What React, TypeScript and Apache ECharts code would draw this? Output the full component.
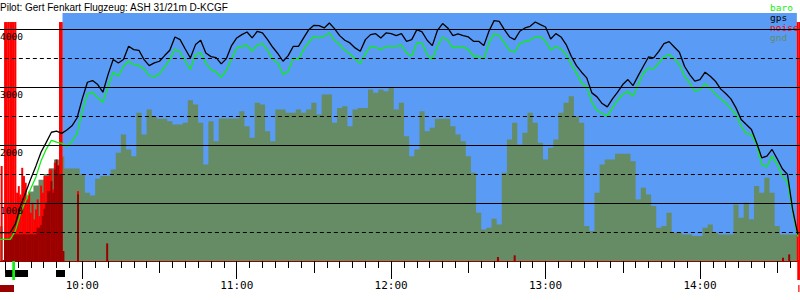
import React, { useEffect, useRef } from 'react';
import * as echarts from 'echarts';

const chartTitle = 'Pilot: Gert Fenkart Flugzeug: ASH 31/21m D-KCGF';
const legendNames = ['baro', 'gps', 'noise', 'gnd'];

// track samples every 2 minutes from 09:28
const trackStart = '09:28:00';
const trackStepMin = 2;
const gpsAlt = [
  488, 488, 488, 640, 950, 1180, 1420, 1640, 1880, 2045, 2220, 2240, 2200, 2260, 2330, 2470, 2800, 3082, 3111, 3042,
  2910, 3214, 3473, 3415, 3473, 3702, 3645, 3633, 3473, 3369, 3415, 3444, 3542, 3633, 3863, 3817, 3656, 3501, 3731,
  3806, 3588, 3524, 3507, 3398, 3490, 3714, 3846, 3903, 3949, 3846, 3961, 3932, 3817, 3685, 3576, 3444, 3542, 3702, 3702,
  3846, 3989, 4064, 4058, 4018, 4104, 4007, 3886, 3806, 3760, 3674, 3616, 3817, 3903, 3920, 3846, 3932, 3920, 3886,
  3920, 3788, 3817, 3989, 3949, 3806, 3714, 3978, 4093, 4018, 3886, 3915, 3886, 3863, 3788, 3788, 3714, 3961, 4144, 4133,
  3989, 3863, 3817, 3961, 4018, 4047, 4121, 4075, 4035, 3829, 3920, 3863, 3731, 3530, 3369, 3255, 3157, 2899, 2830,
  2715, 2658, 2795, 2910, 3042, 3128, 3025, 3197, 3358, 3518, 3501, 3616, 3748, 3783, 3691, 3599, 3358, 3214, 3100, 3128,
  3255, 3186, 3100, 2968, 2887, 2795, 2640, 2440, 2353, 2267, 2038, 1779, 1808, 1923, 1762, 1590, 1492, 890, 459,
];
const baroAlt = [
  373, 373, 373, 520, 820, 1040, 1250, 1450, 1730, 1930, 2080, 2050, 2029, 1975, 2060, 2200, 2580, 2881, 2910, 2813,
  2738, 3002, 3255, 3186, 3358, 3444, 3387, 3369, 3312, 3197, 3174, 3226, 3346, 3473, 3656, 3599, 3444, 3300, 3559,
  3588, 3415, 3300, 3260, 3168, 3289, 3484, 3674, 3702, 3720, 3616, 3731, 3748, 3633, 3473, 3415, 3214, 3272, 3501, 3473,
  3645, 3771, 3875, 3846, 3875, 3932, 3806, 3731, 3633, 3570, 3484, 3404, 3576, 3702, 3685, 3645, 3702, 3702, 3702,
  3720, 3588, 3530, 3760, 3760, 3559, 3473, 3702, 3863, 3806, 3674, 3702, 3691, 3645, 3530, 3530, 3473, 3760, 3915, 3886,
  3760, 3633, 3599, 3748, 3788, 3806, 3863, 3863, 3788, 3633, 3702, 3656, 3559, 3387, 3243, 3071, 3002, 2738, 2594,
  2543, 2497, 2640, 2772, 2870, 2927, 2841, 3042, 3232, 3329, 3312, 3415, 3518, 3559, 3484, 3387, 3186, 3071, 2927, 2956,
  3059, 2968, 2881, 2795, 2727, 2623, 2526, 2325, 2198, 2181, 2009, 1665, 1624, 1808, 1665, 1464, 1360, 861, 419,
];
const groundAlt = [
  600, 0, 1000, 1000, 1100, 1100, 1200, 1300, 1400, 1500, 1600, 1750, 1800, 1596, 1596, 1596, 1492, 1177, 1131, 1418,
  1464, 1464, 1579, 1866, 2181, 1923, 1808, 2554, 2181, 2612, 2485, 2451, 2451, 2411, 2353, 2353, 2382, 2772, 2698,
  2382, 1665, 2411, 2066, 2457, 2457, 2457, 2457, 2583, 2325, 2124, 2727, 2698, 2239, 2066, 2612, 2612, 2554, 2554, 2612,
  2554, 2612, 2727, 2526, 2870, 2870, 2382, 2640, 2669, 2325, 2612, 2640, 2640, 2956, 2899, 2956, 2927, 2985, 2612,
  2727, 2153, 1808, 1923, 2583, 2239, 2296, 2451, 2451, 2451, 2325, 2181, 2066, 1808, 1521, 832, 545, 574, 729, 631,
  1521, 2095, 2382, 2009, 2210, 2554, 2382, 2038, 1751, 1952, 2095, 2554, 2727, 2841, 2497, 2382, 603, 517, 1177,
  1665, 1751, 1751, 1848, 1848, 1848, 1722, 1062, 1263, 1148, 947, 574, 603, 832, 488, 488, 459, 459, 430, 430,
  574, 631, 488, 459, 459, 459, 976, 746, 1004, 718, 1292, 1177, 1435, 1177, 603, 459, 459, 459, 459,
];

// noise samples every 40 s from 09:28 (pre-launch)
const noiseStart = '09:28:00';
const noiseStepSec = 40;
const noiseLevel = [
  0, 1636, 0, 4120, 4120, 4120, 4120, 4120, 4120, 4120, 1177, 1291, 1148, 1607, 1464, 1349, 1062, 1177, 832, 1005,
  718, 890, 1062, 775, 1300, 1177, 1464, 1464, 1464, 1579, 1579, 1234, 1693, 1292, 1492, 4120, 4120, 0, 0,
];
const enlLevel = [
  0, 0, 0, 373, 373, 373, 373, 373, 459, 459, 459, 459, 459, 459, 459, 459, 459, 459, 459, 459,
  459, 459, 574, 574, 620, 775, 900, 1005, 1205, 1205, 1380, 1177, 1579, 1750, 1650, 1500, 1500, 172, 0,
];
const spikeTimes = ['09:58:20', '10:09:40', '12:41:30', '12:48:00', '14:32:15', '14:34:40', '14:38:00', '14:38:40'];
const spikeNoise = [1205, 0, 0, 0, 0, 0, 4120, 4120];
const spikeEnl = [1150, 304, 69, 98, 57, 115, 0, 0];

const takeoffTime = '09:52:19';
const landingTime = '14:37:39';

// flight-phase markers under the time axis
const markerKinds = ['engine', 'engine', 'release', 'tow', 'landing'];
const markerStart = ['09:30:00', '09:49:47', '09:32:48', '09:28:00', '14:37:48'];
const markerEnd = ['09:38:55', '09:53:17', '09:33:51', '09:33:28', '14:38:51'];

const toMin = (s: string) => {
  const p = s.split(':');
  return +p[0] * 60 + +p[1] + (p[2] ? +p[2] / 60 : 0);
};
const fmtHM = (v: number) => {
  const h = Math.floor(v / 60);
  const m = Math.round(v - h * 60);
  return `${h}:${m < 10 ? '0' : ''}${m}`;
};

const BLUE = '#5a9bf5';
const OLIVE = '#658c65';
const GREEN = '#10f010';
const RED = '#ff0000';
const DARKRED = '#990000';
const MONO = 'DejaVu Sans Mono';

export default function App() {
  const ref = useRef<HTMLDivElement>(null);
  useEffect(() => {
    if (!ref.current) return;
    const chart = echarts.init(ref.current, undefined, { renderer: 'svg' });
    const t0 = toMin(trackStart);
    const n0 = toMin(noiseStart);
    const trackX = gpsAlt.map((_, i) => t0 + i * trackStepMin);
    const noiseX = noiseLevel.map((_, k) => n0 + (k * noiseStepSec) / 60);
    const spikeX = spikeTimes.map(toMin);

    const noiseData = noiseLevel.map((v, k) => [noiseX[k], v]).concat(spikeNoise.map((v, j) => [spikeX[j], v]));
    const enlData = enlLevel.map((v, k) => [noiseX[k], v]).concat(spikeEnl.map((v, j) => [spikeX[j], v]));
    const markerData = markerStart.map((s, i) => [toMin(s), toMin(markerEnd[i])]);

    const xMin = 540;
    const xMax = 900;
    const firstVisible = trackX[0];
    const lastVisible = trackX[trackX.length - 1];
    const gridLeft = -72.13;
    const gridRight = -54.4;

    chart.setOption({
      animation: false,
      title: {
        text: chartTitle,
        left: 0,
        top: 2,
        padding: 0,
        textStyle: { fontFamily: 'Liberation Sans', fontSize: 10, fontWeight: 'normal', color: '#000' },
      },
      legend: {
        data: legendNames.map((n, i) => ({
          name: n,
          textStyle: { color: [GREEN, '#000', RED, OLIVE][i] },
        })),
        orient: 'vertical',
        left: 765,
        top: 2,
        padding: 0,
        itemGap: 0,
        itemWidth: 0,
        itemHeight: 10,
        icon: 'none',
        selectedMode: false,
        textStyle: { fontFamily: MONO, fontSize: 9.5, lineHeight: 10, padding: 0 },
      },
      grid: {
        left: gridLeft,
        right: gridRight,
        top: 13,
        bottom: 39,
        containLabel: false,
        outerBoundsMode: 'none',
      },
      xAxis: [
        {
          type: 'value',
          position: 'bottom',
          min: xMin,
          max: xMax,
          interval: 30,
          axisLine: { show: true, onZero: false, lineStyle: { color: DARKRED, width: 2 } },
          axisTick: { show: true, length: 12, lineStyle: { color: '#000', width: 1 } },
          minorTick: { show: true, splitNumber: 6, length: 7, lineStyle: { color: '#000', width: 1 } },
          axisLabel: { show: false },
          splitLine: { show: false },
          minorSplitLine: { show: false },
        },
        {
          type: 'value',
          position: 'bottom',
          min: xMin,
          max: xMax,
          interval: 60,
          axisLine: { show: false, onZero: false },
          axisTick: { show: true, length: 18, lineStyle: { color: '#000', width: 1 } },
          axisLabel: {
            show: true,
            margin: 19,
            formatter: (v: number) => (v < firstVisible + 10 || v > lastVisible - 10 ? '' : fmtHM(v)),
            fontFamily: MONO,
            fontSize: 11,
            color: '#000',
          },
          splitLine: { show: false },
        },
      ],
      yAxis: [
        {
          type: 'value',
          position: 'left',
          min: 0,
          max: 4276,
          interval: 1000,
          z: 10,
          axisLine: { show: false },
          axisTick: { show: false },
          axisLabel: {
            inside: true,
            margin: 72.13,
            align: 'left',
            verticalAlign: 'top',
            fontFamily: MONO,
            fontSize: 9.5,
            color: '#000',
            padding: [2, 0, 0, 0],
            formatter: (v: number) => (v > 0 && v % 1000 === 0 ? String(v) : ''),
          },
          splitLine: { show: true, showMinLine: false, showMaxLine: false, lineStyle: { color: '#000', width: 1 } },
        },
        {
          type: 'value',
          position: 'left',
          min: 0,
          max: 4276,
          interval: 500,
          z: 9,
          axisLine: { show: false },
          axisTick: { show: false },
          axisLabel: { show: false },
          splitLine: {
            show: true,
            showMinLine: false,
            showMaxLine: false,
            lineStyle: { color: '#000', width: 1, type: [4, 3] },
          },
        },
      ],
      series: [
        {
          name: 'bg',
          type: 'line',
          z: 0,
          data: [[toMin(takeoffTime), 0]],
          symbol: 'none',
          lineStyle: { opacity: 0 },
          markArea: {
            silent: true,
            z: 0,
            itemStyle: { color: BLUE, opacity: 1 },
            data: [[{ xAxis: toMin(takeoffTime) }, { xAxis: toMin(landingTime) }]],
          },
        },
        {
          name: 'gnd',
          type: 'line',
          z: 1,
          step: 'middle',
          symbol: 'none',
          color: OLIVE,
          lineStyle: { width: 0 },
          areaStyle: { color: OLIVE, opacity: 1 },
          data: groundAlt.map((v, i) => [trackX[i], v]),
        },
        {
          name: 'noise',
          type: 'bar',
          z: 2,
          barWidth: 2,
          color: RED,
          itemStyle: { color: RED },
          data: noiseData,
        },
        {
          name: 'enl',
          type: 'bar',
          z: 2,
          barWidth: 2,
          barGap: '-100%',
          itemStyle: { color: DARKRED },
          data: enlData,
        },
        {
          name: 'baro',
          type: 'line',
          z: 3,
          symbol: 'none',
          color: GREEN,
          lineStyle: { color: GREEN, width: 1.3 },
          data: baroAlt.map((v, i) => [trackX[i], v]),
        },
        {
          name: 'gps',
          type: 'line',
          z: 3,
          symbol: 'none',
          color: '#000',
          lineStyle: { color: '#000', width: 1.3 },
          data: gpsAlt.map((v, i) => [trackX[i], v]),
        },
        {
          name: 'markers',
          type: 'custom',
          z: 3,
          clip: false,
          data: markerData,
          renderItem: (params: any, api: any) => {
            const kind = markerKinds[params.dataIndex];
            const a = api.coord([api.value(0), 0]);
            const b = api.coord([api.value(1), 0]);
            const base = a[1];
            const w = Math.max(b[0] - a[0], 1);
            if (kind === 'engine') {
              return { type: 'rect', shape: { x: a[0], y: base + 9, width: w, height: 7 }, style: { fill: '#000' } };
            }
            if (kind === 'release') {
              return { type: 'rect', shape: { x: a[0], y: base, width: w, height: 19 }, style: { fill: GREEN } };
            }
            if (kind === 'tow') {
              return { type: 'rect', shape: { x: a[0], y: base + 24, width: w, height: 7 }, style: { fill: DARKRED } };
            }
            return {
              type: 'group',
              children: [
                { type: 'rect', shape: { x: a[0], y: base, width: w, height: 19 }, style: { fill: RED } },
                { type: 'rect', shape: { x: a[0] + 1, y: base + 24, width: 1.2, height: 7 }, style: { fill: RED } },
              ],
            };
          },
        },
      ],
    });
    return () => chart.dispose();
  }, []);
  return <div ref={ref} style={{ position: 'absolute', left: 0, top: 0, width: 800, height: 300 }} />;
}
